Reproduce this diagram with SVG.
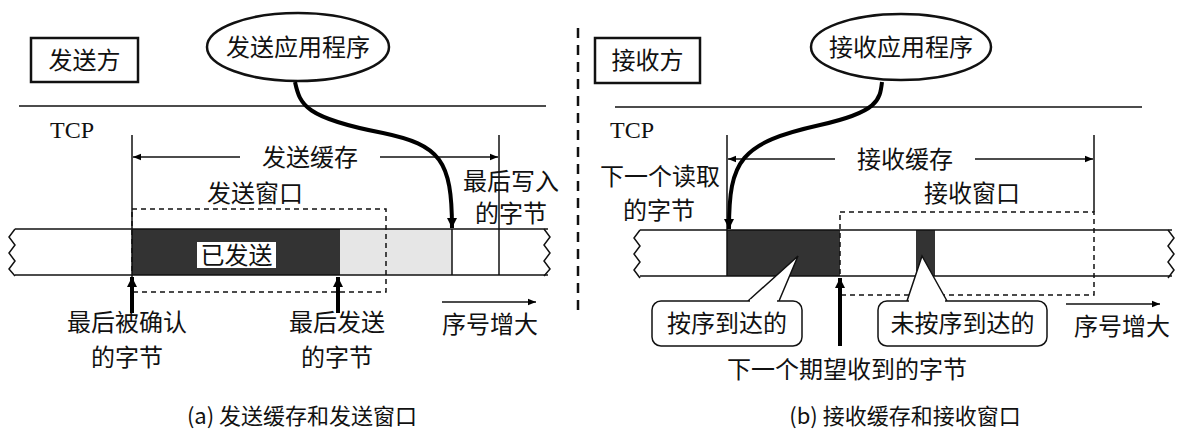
<svg xmlns="http://www.w3.org/2000/svg" width="1195" height="441" viewBox="0 0 1195 441">
<defs>
<marker id="ah" viewBox="0 0 10 10" refX="10" refY="5" markerWidth="10" markerHeight="8" markerUnits="userSpaceOnUse" orient="auto"><path d="M0,1 L10,5 L0,9 Z" fill="#000"/></marker>
<marker id="ahb" viewBox="0 0 10 10" refX="10" refY="5" markerWidth="14" markerHeight="10" markerUnits="userSpaceOnUse" orient="auto"><path d="M0,0 L10,5 L0,10 Z" fill="#000"/></marker>
</defs>
<style>
text{font-family:"Noto Sans CJK SC","Liberation Sans",sans-serif;fill:#111}
.t{font-size:24px}
.c{font-size:22px}
.tcp{font-family:"Liberation Serif",serif;font-size:24px}
.ln{stroke:#111;stroke-width:1.5;fill:none}
.dash{stroke:#111;stroke-width:1.5;stroke-dasharray:5,4;fill:none}
.box{stroke:#111;stroke-width:2.5;fill:#fff}
.thick{stroke:#000;stroke-width:4;fill:none}
</style>
<!-- left panel -->
<g id="sender-box"><rect x="31" y="38" width="107" height="44" class="box"/><text x="84.5" y="69" class="t" text-anchor="middle">发送方</text></g>
<g id="send-app"><ellipse cx="298" cy="47" rx="91" ry="34" class="box"/><text x="298" y="56" class="t" text-anchor="middle">发送应用程序</text></g>
<line x1="19" y1="106" x2="546" y2="106" class="ln"/>
<text x="50" y="138" class="tcp">TCP</text>
<g id="send-strip">
<rect x="132" y="229" width="208" height="46" fill="#333"/>
<rect x="340" y="229" width="112" height="46" fill="#e6e6e6"/>
<line x1="15" y1="229" x2="548" y2="229" class="ln"/>
<line x1="15" y1="275" x2="548" y2="275" class="ln"/>
<line x1="452" y1="229" x2="452" y2="275" class="ln"/>
<path d="M15,229 l-6,8 6,8 -6,8 6,8 -6,8 6,7" class="ln"/>
<path d="M544,229 l6,8 -6,8 6,8 -6,8 6,8 -6,7" class="ln"/>
<rect x="197" y="242" width="79" height="26" fill="#fff"/>
<text x="236.5" y="264" class="t" text-anchor="middle">已发送</text>
</g>
<g id="send-buffer">
<line x1="132" y1="135" x2="132" y2="275" class="ln"/>
<line x1="499" y1="135" x2="499" y2="275" class="ln"/>
<text x="310" y="166" class="t" text-anchor="middle">发送缓存</text>
</g>
<g id="send-window"><rect x="132" y="209" width="254" height="83" class="dash"/><text x="255" y="202" class="t" text-anchor="middle">发送窗口</text></g>
<g id="send-labels">
<text x="127" y="331" class="t" text-anchor="middle">最后被确认</text>
<text x="127" y="366" class="t" text-anchor="middle">的字节</text>
<text x="337" y="331" class="t" text-anchor="middle">最后发送</text>
<text x="337" y="366" class="t" text-anchor="middle">的字节</text>
<text x="511" y="190" class="t" text-anchor="middle">最后写入</text>
<text x="511" y="222" class="t" text-anchor="middle">的字节</text>
<text x="490" y="333" class="t" text-anchor="middle">序号增大</text>
</g>
<text x="302" y="424" class="c" text-anchor="middle">(a) 发送缓存和发送窗口</text>
<line x1="578" y1="28" x2="578" y2="312" stroke="#111" stroke-width="2.5" stroke-dasharray="10,7"/>
<!-- right panel -->
<g id="receiver-box"><rect x="595" y="38" width="105" height="45" class="box"/><text x="647.5" y="69" class="t" text-anchor="middle">接收方</text></g>
<g id="recv-app"><ellipse cx="901" cy="47" rx="90" ry="33" class="box"/><text x="901" y="56" class="t" text-anchor="middle">接收应用程序</text></g>
<line x1="615" y1="107" x2="1142" y2="107" class="ln"/>
<text x="610" y="138" class="tcp">TCP</text>
<g id="recv-strip">
<rect x="727" y="230" width="113" height="46" fill="#333"/>
<rect x="916" y="230" width="19" height="46" fill="#333"/>
<line x1="640" y1="230" x2="1172" y2="230" class="ln"/>
<line x1="640" y1="276" x2="1172" y2="276" class="ln"/>
<path d="M640,230 l-6,8 6,8 -6,8 6,8 -6,8 6,8" class="ln"/>
<path d="M1168,230 l6,8 -6,8 6,8 -6,8 6,8 -6,8" class="ln"/>
</g>
<g id="recv-buffer">
<line x1="727" y1="135" x2="727" y2="276" class="ln"/>
<line x1="1094" y1="135" x2="1094" y2="212" class="ln"/>
<text x="905" y="168" class="t" text-anchor="middle">接收缓存</text>
</g>
<g id="recv-window"><rect x="840" y="212" width="254" height="83" class="dash"/><text x="972" y="202" class="t" text-anchor="middle">接收窗口</text></g>
<g id="callout-inorder">
<path d="M748,301 L798,256 L779,301" fill="#fff" stroke="#111" stroke-width="1.5"/>
<rect x="652" y="301" width="150" height="45" rx="9" fill="#fff" stroke="#111" stroke-width="1.5"/>
<line x1="750" y1="301" x2="777" y2="301" stroke="#fff" stroke-width="3"/>
<text x="727" y="332" class="t" text-anchor="middle">按序到达的</text>
</g>
<g id="callout-outorder">
<path d="M907,301 L922,256 L947,301" fill="#fff" stroke="#111" stroke-width="1.5"/>
<rect x="878" y="301" width="169" height="45" rx="9" fill="#fff" stroke="#111" stroke-width="1.5"/>
<line x1="909" y1="301" x2="945" y2="301" stroke="#fff" stroke-width="3"/>
<text x="962.5" y="332" class="t" text-anchor="middle">未按序到达的</text>
</g>
<g id="recv-labels">
<text x="660" y="185" class="t" text-anchor="middle">下一个读取</text>
<text x="659" y="219" class="t" text-anchor="middle">的字节</text>
<text x="847" y="378" class="t" text-anchor="middle">下一个期望收到的字节</text>
<text x="1122" y="335" class="t" text-anchor="middle">序号增大</text>
</g>
<text x="905" y="424" class="c" text-anchor="middle">(b) 接收缓存和接收窗口</text>
<!-- connectors -->
<g id="connectors">
<line x1="240" y1="157" x2="133" y2="157" class="ln" marker-end="url(#ah)"/>
<line x1="380" y1="157" x2="498" y2="157" class="ln" marker-end="url(#ah)"/>
<path d="M295,82 C300,105 305,118 383,133 C440,145 452,160 452,228" class="thick" marker-end="url(#ahb)"/>
<line x1="132" y1="313" x2="132" y2="277" class="thick" marker-end="url(#ahb)"/>
<line x1="338" y1="313" x2="338" y2="277" class="thick" marker-end="url(#ahb)"/>
<line x1="442" y1="302" x2="536" y2="302" class="ln" marker-end="url(#ah)"/>
<line x1="835" y1="159" x2="728" y2="159" class="ln" marker-end="url(#ah)"/>
<line x1="975" y1="159" x2="1093" y2="159" class="ln" marker-end="url(#ah)"/>
<path d="M882,82 C880,100 878,112 820,125 C740,143 729,160 729,229" class="thick" marker-end="url(#ahb)"/>
<line x1="840" y1="346" x2="840" y2="278" class="thick" marker-end="url(#ahb)"/>
<line x1="1066" y1="304" x2="1160" y2="304" class="ln" marker-end="url(#ah)"/>
</g>
</svg>
